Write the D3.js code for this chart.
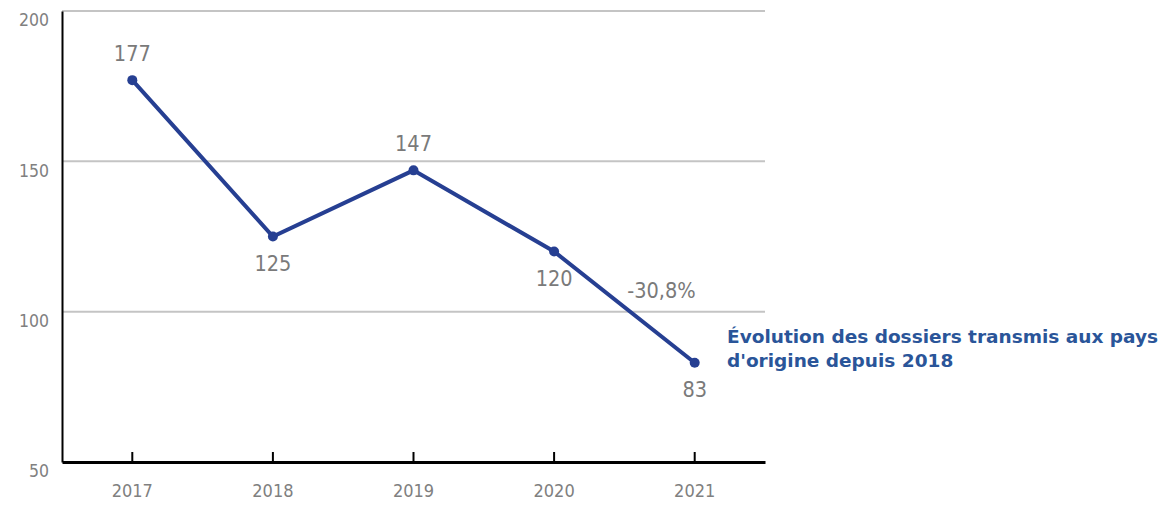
<!DOCTYPE html>
<html>
<head>
<meta charset="utf-8">
<script src="https://d3js.org/d3.v7.min.js"></script>
<style>
  body { margin: 0; background: #fff; }
  svg { display: block; font-family: "DejaVu Sans", Verdana, sans-serif; }
  .cond { font-family: "DejaVu Sans Condensed", "DejaVu Sans", sans-serif; font-stretch: condensed; }
</style>
</head>
<body>
<svg id="chart" width="1168" height="505"></svg>
<script>
// data
const years = ['2017', '2018', '2019', '2020', '2021'];
const dossiers = [177, 125, 147, 120, 83];
const labelSide = ['above', 'below', 'above', 'below', 'below'];
const yTicks = [50, 100, 150, 200];
const changeLabel = '-30,8%';
const titleLines = ['Évolution des dossiers transmis aux pays', "d'origine depuis 2018"];

const svg = d3.select('#chart');
const plotLeft = 62, plotRight = 765, plotTop = 11, plotBottom = 462;

let x = d3.scaleBand().domain(years).range([plotLeft, plotRight]);
let y = d3.scaleLinear().domain([50, 200]).range([plotBottom, plotTop]);
let cx = function(d) { return x(d) + x.bandwidth() / 2; };

// gridlines
svg.append('g').selectAll('line')
    .data(yTicks.filter(function(t) { return t > 50; }))
    .enter().append('line')
    .attr('x1', plotLeft).attr('x2', plotRight)
    .attr('y1', function(d) { return y(d); })
    .attr('y2', function(d) { return y(d); })
    .attr('stroke', '#c4c4c4').attr('stroke-width', 2);

// y axis
let yAxis = svg.append('g')
    .attr('transform', 'translate(' + plotLeft + ',0)')
    .call(d3.axisLeft(y).tickValues(yTicks).tickSize(0).tickPadding(13))
    .attr('font-family', null).attr('font-size', 17.5)
    .attr('class', 'cond');
yAxis.select('.domain').attr('stroke', '#000').attr('stroke-width', 2);
yAxis.selectAll('text')
    .attr('fill', '#808080')
    .attr('dy', '0.85em');

// x axis, ticks pointing up
let xAxis = svg.append('g')
    .attr('transform', 'translate(0,' + plotBottom + ')')
    .call(d3.axisBottom(x).tickSizeInner(-10).tickSizeOuter(0).tickPadding(22))
    .attr('font-family', null).attr('font-size', 18)
    .attr('class', 'cond');
xAxis.select('.domain').attr('stroke', '#000').attr('stroke-width', 3);
xAxis.selectAll('.tick line').attr('stroke', '#000').attr('stroke-width', 2);
xAxis.selectAll('text')
    .attr('fill', '#808080');

// the line
let points = years.map(function(yr, i) { return {year: yr, value: dossiers[i], side: labelSide[i]}; });
let line = d3.line()
    .x(function(d) { return cx(d.year); })
    .y(function(d) { return y(d.value); });
svg.append('path')
    .datum(points)
    .attr('d', line)
    .attr('fill', 'none')
    .attr('stroke', '#263f92')
    .attr('stroke-width', 4);

svg.append('g').selectAll('circle')
    .data(points)
    .enter().append('circle')
    .attr('cx', function(d) { return cx(d.year); })
    .attr('cy', function(d) { return y(d.value); })
    .attr('r', 5)
    .attr('fill', '#263f92');

// value labels
svg.append('g').attr('class', 'cond').selectAll('text')
    .data(points)
    .enter().append('text')
    .attr('x', function(d) { return cx(d.year); })
    .attr('y', function(d) { return y(d.value) + (d.side === 'above' ? -19 : 34.5); })
    .attr('text-anchor', 'middle')
    .attr('fill', '#7a7a7a')
    .style('font-size', '21.5px')
    .text(function(d) { return d.value; });

// change label between 2020 and 2021
svg.append('text')
    .attr('class', 'cond')
    .attr('x', (cx(years[3]) + cx(years[4])) / 2 + 37)
    .attr('y', y(100) - 14)
    .attr('text-anchor', 'middle')
    .attr('fill', '#7a7a7a')
    .style('font-size', '21.5px')
    .text(changeLabel);

// caption
svg.append('text')
    .attr('x', 727).attr('y', 343)
    .attr('fill', '#2a5599')
    .style('font-size', '18.5px')
    .style('font-weight', 'bold')
    .selectAll('tspan')
    .data(titleLines)
    .enter().append('tspan')
    .attr('x', 727)
    .attr('dy', function(d, i) { return i === 0 ? 0 : 23.5; })
    .text(function(d) { return d; });
</script>
</body>
</html>
